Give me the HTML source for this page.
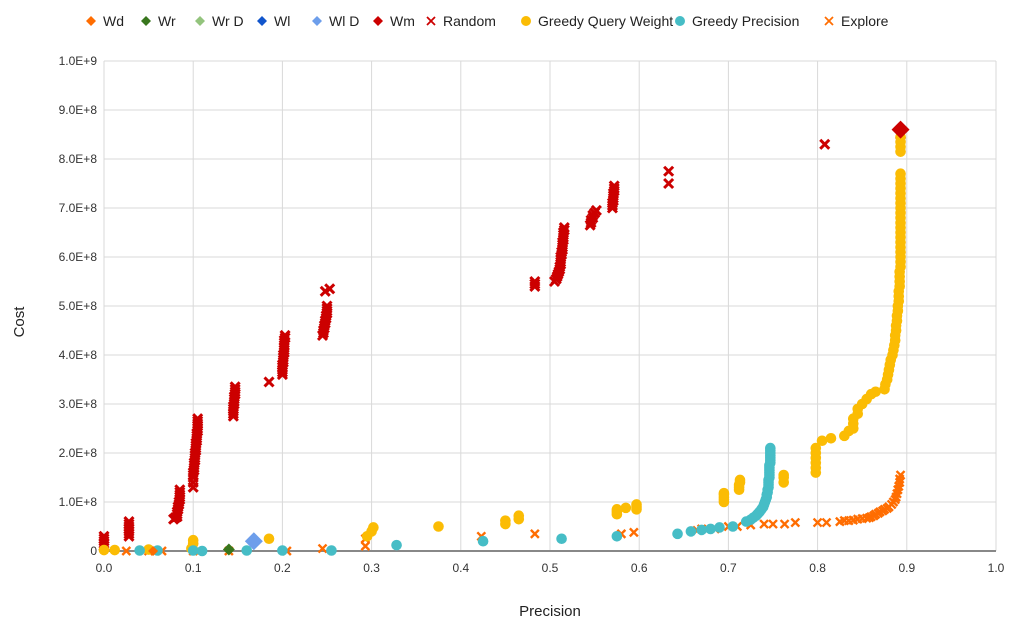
<!DOCTYPE html>
<html><head><meta charset="utf-8"><style>
body{margin:0;background:#fff;font-family:"Liberation Sans",Arial,sans-serif}
svg text{font-family:"Liberation Sans",Arial,sans-serif}
</style></head><body>
<svg id="chart" width="1024" height="639" viewBox="0 0 1024 639" xmlns="http://www.w3.org/2000/svg">
<rect width="1024" height="639" fill="#fff"/>
<g id="grid"></g><g id="ticks"></g><g id="marks"></g><g id="legend"></g>
<text x="24" y="322" font-size="15" text-anchor="middle" transform="rotate(-90 24 322)" fill="#222">Cost</text>
<text x="550" y="616" font-size="15" text-anchor="middle" fill="#222">Precision</text>
</svg>
<script>
const xTicks=[0,0.1,0.2,0.3,0.4,0.5,0.6,0.7,0.8,0.9,1.0];
const xTickLabels=["0.0","0.1","0.2","0.3","0.4","0.5","0.6","0.7","0.8","0.9","1.0"];
const yTicks=[0,1,2,3,4,5,6,7,8,9,10];
const yTickLabels=["0","1.0E+8","2.0E+8","3.0E+8","4.0E+8","5.0E+8","6.0E+8","7.0E+8","8.0E+8","9.0E+8","1.0E+9"];
// values: [precision, cost in units of 1e8]
const randomPts=[[0,0.1],[0,0.15],[0,0.2],[0,0.25],[0,0.3],[0.028,0.3],[0.028,0.35],[0.028,0.4],[0.028,0.45],[0.028,0.5],[0.028,0.55],[0.028,0.6],[0.078,0.65],[0.08,0.68],[0.082,0.7],[0.082,0.75],[0.082,0.8],[0.083,0.85],[0.083,0.9],[0.084,0.95],[0.084,1.0],[0.085,1.05],[0.085,1.1],[0.085,1.15],[0.085,1.2],[0.085,1.25],[0.1,1.3],[0.1,1.4],[0.1,1.5],[0.1,1.55],[0.1,1.6],[0.101,1.65],[0.101,1.7],[0.101,1.75],[0.101,1.8],[0.102,1.85],[0.102,1.9],[0.102,1.95],[0.102,2.0],[0.103,2.05],[0.103,2.1],[0.103,2.15],[0.103,2.2],[0.104,2.25],[0.104,2.3],[0.104,2.35],[0.104,2.4],[0.105,2.45],[0.105,2.5],[0.105,2.55],[0.105,2.6],[0.105,2.65],[0.105,2.7],[0.145,2.75],[0.145,2.8],[0.145,2.85],[0.145,2.9],[0.145,2.95],[0.146,3.0],[0.146,3.05],[0.146,3.1],[0.146,3.15],[0.147,3.2],[0.147,3.25],[0.147,3.3],[0.147,3.35],[0.185,3.45],[0.2,3.6],[0.2,3.65],[0.2,3.7],[0.2,3.75],[0.2,3.8],[0.201,3.85],[0.201,3.9],[0.201,3.95],[0.201,4.0],[0.202,4.05],[0.202,4.1],[0.202,4.15],[0.202,4.2],[0.202,4.25],[0.202,4.3],[0.203,4.35],[0.203,4.4],[0.245,4.4],[0.246,4.45],[0.246,4.5],[0.247,4.55],[0.247,4.6],[0.248,4.65],[0.248,4.7],[0.249,4.75],[0.249,4.8],[0.25,4.85],[0.25,4.9],[0.25,4.95],[0.25,5.0],[0.248,5.3],[0.253,5.35],[0.483,5.4],[0.483,5.45],[0.483,5.5],[0.505,5.5],[0.507,5.55],[0.508,5.6],[0.509,5.65],[0.51,5.7],[0.511,5.75],[0.511,5.8],[0.512,5.85],[0.512,5.9],[0.512,5.95],[0.512,6.0],[0.513,6.05],[0.513,6.1],[0.514,6.15],[0.514,6.2],[0.514,6.25],[0.514,6.3],[0.515,6.35],[0.515,6.4],[0.515,6.45],[0.515,6.5],[0.516,6.55],[0.516,6.6],[0.545,6.65],[0.546,6.7],[0.546,6.75],[0.548,6.8],[0.548,6.85],[0.55,6.9],[0.552,6.95],[0.57,7.0],[0.57,7.05],[0.57,7.1],[0.571,7.15],[0.571,7.2],[0.571,7.25],[0.571,7.3],[0.572,7.35],[0.572,7.4],[0.572,7.45],[0.633,7.5],[0.633,7.75],[0.808,8.3],[0.893,8.5]];
const gqwPts=[[0,0.02],[0.012,0.02],[0.05,0.03],[0.098,0.05],[0.1,0.15],[0.1,0.22],[0.185,0.25],[0.295,0.3],[0.3,0.4],[0.302,0.48],[0.375,0.5],[0.45,0.55],[0.45,0.62],[0.465,0.65],[0.465,0.72],[0.575,0.75],[0.575,0.8],[0.575,0.85],[0.585,0.88],[0.597,0.85],[0.597,0.9],[0.597,0.95],[0.695,1.0],[0.695,1.05],[0.695,1.1],[0.695,1.15],[0.695,1.18],[0.712,1.25],[0.712,1.3],[0.712,1.35],[0.713,1.4],[0.713,1.45],[0.762,1.4],[0.762,1.5],[0.762,1.55],[0.798,1.6],[0.798,1.7],[0.798,1.8],[0.798,1.9],[0.798,2.0],[0.798,2.1],[0.805,2.25],[0.815,2.3],[0.83,2.35],[0.835,2.45],[0.84,2.5],[0.84,2.6],[0.84,2.7],[0.845,2.8],[0.845,2.9],[0.85,3.0],[0.855,3.1],[0.86,3.2],[0.865,3.25],[0.875,3.3],[0.876,3.4],[0.878,3.5],[0.879,3.6],[0.88,3.7],[0.881,3.8],[0.882,3.9],[0.884,4.0],[0.885,4.1],[0.886,4.2],[0.887,4.3],[0.887,4.4],[0.888,4.5],[0.888,4.6],[0.889,4.7],[0.889,4.8],[0.89,4.9],[0.89,5.0],[0.891,5.1],[0.891,5.2],[0.891,5.3],[0.892,5.4],[0.892,5.5],[0.892,5.6],[0.892,5.7],[0.893,5.8],[0.893,5.9],[0.893,6.0],[0.893,6.1],[0.893,6.2],[0.893,6.3],[0.893,6.4],[0.893,6.5],[0.893,6.6],[0.893,6.7],[0.893,6.8],[0.893,6.9],[0.893,7.0],[0.893,7.1],[0.893,7.2],[0.893,7.3],[0.893,7.4],[0.893,7.5],[0.893,7.6],[0.893,7.7],[0.893,8.15],[0.893,8.25],[0.893,8.35],[0.893,8.45],[0.893,8.6]];
const gpPts=[[0.04,0.01],[0.06,0.01],[0.1,0.01],[0.11,0],[0.16,0.01],[0.2,0.01],[0.255,0.01],[0.328,0.12],[0.425,0.2],[0.513,0.25],[0.575,0.3],[0.643,0.35],[0.658,0.4],[0.67,0.43],[0.68,0.45],[0.69,0.48],[0.705,0.5],[0.72,0.6],[0.725,0.64],[0.728,0.68],[0.731,0.72],[0.733,0.76],[0.735,0.8],[0.737,0.85],[0.739,0.9],[0.74,0.95],[0.741,1.0],[0.742,1.05],[0.743,1.1],[0.743,1.15],[0.744,1.2],[0.744,1.25],[0.745,1.3],[0.745,1.35],[0.745,1.4],[0.745,1.45],[0.746,1.5],[0.746,1.55],[0.746,1.6],[0.746,1.65],[0.746,1.7],[0.746,1.75],[0.747,1.8],[0.747,1.85],[0.747,1.9],[0.747,1.95],[0.747,2.0],[0.747,2.05],[0.747,2.1]];
const explorePts=[[0,0.05],[0.025,0],[0.05,0],[0.065,0],[0.1,0],[0.14,0],[0.205,0],[0.245,0.05],[0.293,0.1],[0.293,0.25],[0.423,0.3],[0.483,0.35],[0.58,0.35],[0.594,0.38],[0.665,0.42],[0.67,0.45],[0.685,0.45],[0.7,0.5],[0.71,0.5],[0.725,0.53],[0.74,0.55],[0.75,0.55],[0.763,0.55],[0.775,0.58],[0.8,0.58],[0.81,0.58],[0.825,0.6],[0.83,0.62],[0.835,0.62],[0.84,0.63],[0.845,0.65],[0.85,0.66],[0.855,0.67],[0.858,0.68],[0.86,0.7],[0.863,0.72],[0.865,0.75],[0.868,0.77],[0.87,0.8],[0.873,0.82],[0.875,0.85],[0.878,0.87],[0.88,0.9],[0.883,0.95],[0.885,1.0],[0.887,1.05],[0.888,1.1],[0.889,1.17],[0.89,1.25],[0.891,1.32],[0.892,1.4],[0.892,1.47],[0.893,1.55]];
const wdPts=[[0.055,0]];
const wrPts=[[0.14,0.03]];
const wlDPts=[[0.168,0.2]];
const wmPts=[[0.893,8.6]];
const legendLabels=["Wd","Wr","Wr D","Wl","Wl D","Wm","Random","Greedy Query Weight","Greedy Precision","Explore"];
const legendColors=["#ff6d01","#38761d","#93c47d","#1155cc","#6d9eeb","#cc0000","#cc0000","#fbbc04","#46bdc6","#ff6d01"];
const legendShapes=["d","d","d","d","d","d","x","c","c","x"];

const NS="http://www.w3.org/2000/svg";
const X0=104,X1=996,Y0=551,Y1=61;
const sx=v=>X0+(X1-X0)*v;
const sy=v=>Y0-(Y0-Y1)*v/10;
function mk(tag,attrs,parent){const e=document.createElementNS(NS,tag);for(const k in attrs)e.setAttribute(k,attrs[k]);parent.appendChild(e);return e;}
const grid=document.getElementById('grid'),ticks=document.getElementById('ticks'),marks=document.getElementById('marks'),legend=document.getElementById('legend');
xTicks.forEach((t,i)=>{
  const l=mk('line',{x1:sx(t),x2:sx(t),y1:Y1,y2:Y0,stroke:'#d9d9d9','stroke-width':1},grid);
  
  
  const tx=mk('text',{x:sx(t),y:572,'font-size':12,'text-anchor':'middle',fill:'#333'},ticks);
  tx.textContent=xTickLabels[i];
  
  
});
yTicks.forEach((t,i)=>{
  const l=mk('line',{x1:X0,x2:X1,y1:sy(t),y2:sy(t),stroke:t===0?'#888':'#d9d9d9','stroke-width':t===0?2:1},grid);
  
  
  const tx=mk('text',{x:97,y:sy(t)+4,'font-size':12,'text-anchor':'end',fill:'#333'},ticks);
  tx.textContent=yTickLabels[i];
  
  
});
function cross(x,y,s,c,p,w){const g=mk('g',{stroke:c,'stroke-width':w||2.2},p);mk('line',{x1:x-s,y1:y-s,x2:x+s,y2:y+s},g);mk('line',{x1:x-s,y1:y+s,x2:x+s,y2:y-s},g);return g;}
function diamond(x,y,s,c,p){return mk('polygon',{points:`${x},${y-s} ${x+s},${y} ${x},${y+s} ${x-s},${y}`,fill:c},p);}
explorePts.forEach(d=>{const e=cross(sx(d[0]),sy(d[1]),4,'#ff6d01',marks,2.4);

});
randomPts.forEach(d=>{const e=cross(sx(d[0]),sy(d[1]),4.5,'#cc0000',marks,3);

});
gqwPts.forEach(d=>{const e=mk('circle',{cx:sx(d[0]),cy:sy(d[1]),r:5.3,fill:'#fbbc04'},marks);

});
gpPts.forEach(d=>{const e=mk('circle',{cx:sx(d[0]),cy:sy(d[1]),r:5.3,fill:'#46bdc6'},marks);

});
wdPts.forEach(d=>{const e=diamond(sx(d[0]),sy(d[1]),5,'#ff6d01',marks);

});
wrPts.forEach(d=>{const e=diamond(sx(d[0]),sy(d[1]),6,'#38761d',marks);

});
wlDPts.forEach(d=>{const e=diamond(sx(d[0]),sy(d[1]),9,'#6d9eeb',marks);

});
wmPts.forEach(d=>{const e=diamond(sx(d[0]),sy(d[1]),9,'#cc0000',marks);

});
// legend
const lx=[91,146,200,262,317,378,431,526,680,829];
legendLabels.forEach((lab,i)=>{
  const g=mk('g',{},legend);
  
  
  const x=lx[i],y=21;
  if(legendShapes[i]==='d')diamond(x,y,5,legendColors[i],g);
  else if(legendShapes[i]==='c')mk('circle',{cx:x,cy:y,r:5,fill:legendColors[i]},g);
  else cross(x,y,4,legendColors[i],g,1.8);
  const t=mk('text',{x:x+12,y:y+5,'font-size':14,fill:'#222'},g);
  t.textContent=lab;
});
</script>
</body></html>
